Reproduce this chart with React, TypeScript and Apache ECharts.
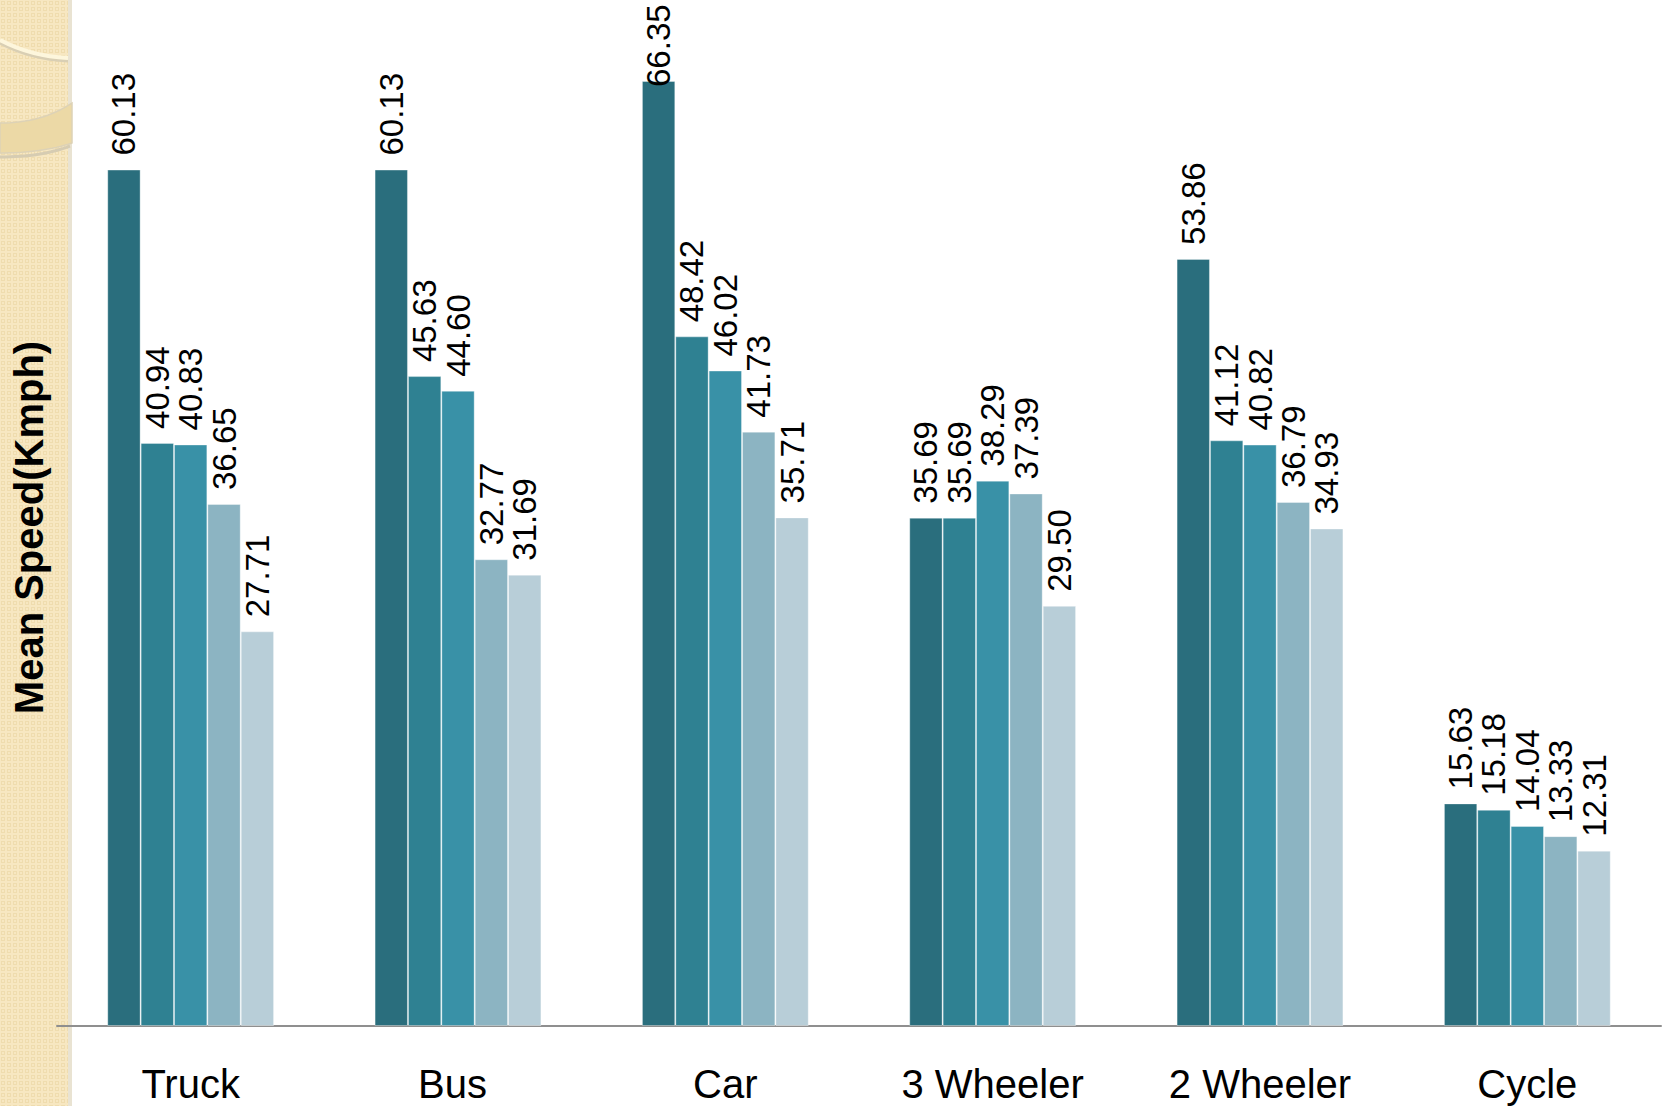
import React, { useEffect, useRef } from "react";
import * as echarts from "echarts";

const categories = ["Truck", "Bus", "Car", "3 Wheeler", "2 Wheeler", "Cycle"];
const series1 = [60.13, 60.13, 66.35, 35.69, 53.86, 15.63];
const series2 = [40.94, 45.63, 48.42, 35.69, 41.12, 15.18];
const series3 = [40.83, 44.6, 46.02, 38.29, 40.82, 14.04];
const series4 = [36.65, 32.77, 41.73, 37.39, 36.79, 13.33];
const series5 = [27.71, 31.69, 35.71, 29.5, 34.93, 12.31];
const seriesValues = [series1, series2, series3, series4, series5];
const seriesNames = ["Series 1", "Series 2", "Series 3", "Series 4", "Series 5"];
const colors = ["#2a6e7d", "#2f8192", "#3991a7", "#8cb4c2", "#b8ced8"];

const FONT = "'Liberation Sans', Arial, Helvetica, sans-serif";

function makePattern(): HTMLCanvasElement {
  const c = document.createElement("canvas");
  c.width = 6;
  c.height = 6;
  const ctx = c.getContext("2d")!;
  ctx.fillStyle = "#f7e7c1";
  ctx.fillRect(0, 0, 6, 6);
  ctx.strokeStyle = "#efdcae";
  ctx.lineWidth = 1;
  ctx.strokeRect(1.5, 1.5, 3, 3);
  return c;
}

function quad(p0: number[], c: number[], p1: number[], n: number): number[][] {
  const pts: number[][] = [];
  for (let i = 0; i <= n; i++) {
    const t = i / n;
    const a = (1 - t) * (1 - t);
    const b = 2 * (1 - t) * t;
    const d = t * t;
    pts.push([a * p0[0] + b * c[0] + d * p1[0], a * p0[1] + b * c[1] + d * p1[1]]);
  }
  return pts;
}

export default function App() {
  const ref = useRef<HTMLDivElement>(null);
  useEffect(() => {
    if (!ref.current) return;
    const chart = echarts.init(ref.current, null, { renderer: "svg" });
    const pattern = makePattern();
    const bandTop = quad([0, 123], [42, 123], [72, 103], 16);
    const bandBottom = quad([72, 143], [42, 153], [0, 153], 16);
    const option: any = {
      animation: false,
      backgroundColor: "#ffffff",
      grid: { left: 57, right: 4, top: 29, bottom: 80, containLabel: false },
      graphic: [
        {
          type: "rect",
          z: -10,
          silent: true,
          shape: { x: 0, y: 0, width: 72, height: 1106 },
          style: { fill: { image: pattern, repeat: "repeat" } as any },
        },
        {
          type: "rect",
          z: -9,
          silent: true,
          shape: { x: 68, y: 0, width: 4, height: 1106 },
          style: { fill: "#e9e3d2" },
        },
        {
          type: "polyline",
          z: -9,
          silent: true,
          shape: { points: quad([0, 157], [42, 157], [70, 146], 16) },
          style: { stroke: "#d6ccb2", lineWidth: 3, fill: "none" },
        },
        {
          type: "polygon",
          z: -9,
          silent: true,
          shape: { points: bandTop.concat(bandBottom) },
          style: { fill: "#ecd9a6", stroke: "#ddd2b6", lineWidth: 1.5 },
        },
        {
          type: "bezierCurve",
          z: -9,
          silent: true,
          shape: { x1: 0, y1: 43, cpx1: 30, cpy1: 59, x2: 68, y2: 61 },
          style: { stroke: "#d9cfb4", lineWidth: 3, fill: "none" },
        },
        {
          type: "bezierCurve",
          z: -9,
          silent: true,
          shape: { x1: 0, y1: 40, cpx1: 30, cpy1: 56, x2: 68, y2: 58 },
          style: { stroke: "#fdf6dc", lineWidth: 4, fill: "none" },
        },
      ],
      xAxis: {
        type: "category",
        data: categories.map((c) =>
          c === "Bus" ? { value: c, textStyle: { padding: [0, 11, 0, 0] } } : c
        ),
        axisLine: { show: true, lineStyle: { color: "#8f8f8f", width: 2 } },
        axisTick: { show: false },
        axisLabel: { color: "#000", fontSize: 40, fontFamily: FONT, margin: 38 },
        splitLine: { show: false },
      },
      yAxis: {
        type: "value",
        min: 0,
        max: 70,
        interval: 10,
        name: "Mean Speed(Kmph)",
        nameLocation: "middle",
        nameGap: 8,
        nameRotate: 90,
        nameTextStyle: { color: "#000", fontSize: 40, fontWeight: "bold", fontFamily: FONT },
        axisLine: { show: false },
        axisTick: { show: false },
        axisLabel: { show: false },
        splitLine: { show: false },
      },
      series: seriesValues.map((vals, si) => ({
        type: "bar",
        name: seriesNames[si],
        barGap: "0%",
        barCategoryGap: "37.6%",
        itemStyle: { color: colors[si], borderColor: "rgba(255,255,255,0.35)", borderWidth: 1 },
        label: {
          show: true,
          position: "top",
          rotate: 90,
          align: "left",
          verticalAlign: "middle",
          distance: 14,
          fontSize: 33,
          color: "#000",
          fontFamily: FONT,
          formatter: (p: any) => Number(p.value).toFixed(2),
        },
        data: vals.map((v, ci) =>
          si === 0 && ci === 2 ? { value: v, label: { distance: -6 } } : v
        ),
      })),
    };
    chart.setOption(option);
    return () => chart.dispose();
  }, []);
  return (
    <div
      ref={ref}
      style={{ position: "fixed", left: 0, top: 0, width: 1665, height: 1106 }}
    />
  );
}
